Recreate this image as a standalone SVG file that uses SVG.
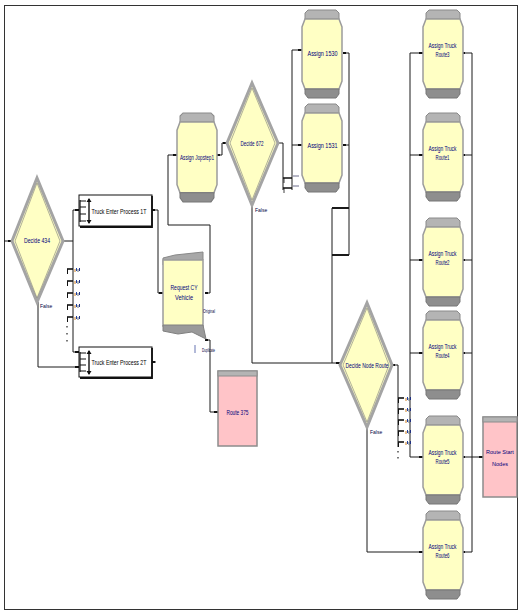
<svg xmlns="http://www.w3.org/2000/svg" xmlns:xlink="http://www.w3.org/1999/xlink" width="521" height="612" viewBox="0 0 521 612">
<style>
.lbl{font-family:"Liberation Sans",Arial,sans-serif;font-size:8px;fill:#00007a;text-anchor:middle}
.sm{font-family:"Liberation Sans",Arial,sans-serif;font-size:5px;fill:#000040}
.w{fill:none;stroke:#1a1a1a;stroke-width:1}
.wt{fill:none;stroke:#1a1a1a;stroke-width:2}
.tick{stroke:#111;stroke-width:2.2}
.dia{fill:#ffffc4;stroke:#a4a4a4;stroke-width:3}
.diain{fill:none;stroke:#7c7c7c;stroke-width:0.6}
.body{fill:#ffffc4;stroke:#9c9c9c;stroke-width:1.5}
.route{fill:#ffc4c8;stroke:#8c8c8c;stroke-width:1.5}
</style>
<defs>
<g id="asg">
<path d="M6,0 H34 L37,3 V9 H3 V3 Z" fill="#b4b4b4" stroke="#8a8a8a" stroke-width="1"/>
<path d="M3,9 H37 L40,17 V71 L37,79 H3 L0,71 V17 Z" class="body"/>
<path d="M3,79 H37 V84 L34,88 H6 L3,84 Z" fill="#8e8e8e" stroke="#777" stroke-width="1"/>
</g>
<g id="tag">
<path d="M0,0 H6" stroke="#111" stroke-width="1.6"/>
<path d="M0.5,0 V5" stroke="#111" stroke-width="1"/>
<path d="M8,0 v3" stroke="#d08020" stroke-width="1"/>
<path d="M9.5,-1 v3" stroke="#2040a0" stroke-width="1"/>
<path d="M11,0 v3" stroke="#607080" stroke-width="1"/>
<path d="M12.5,-1 v3" stroke="#203080" stroke-width="1"/>
</g>
</defs>

<rect x="4.5" y="5.5" width="513" height="604" fill="#fff" stroke="#333" stroke-width="1"/>

<g id="connectors">
<path class="w" d="M4,241 H12"/>
<path class="w" d="M63,241 H73 M73,210 V352 M73,210 H79 M73,352 H79"/>
<path class="w" d="M38,302 V367 H79"/>
<path class="w" d="M152,210 H158 V293 H163"/>
<path class="w" d="M152,362 H156"/>
<path class="w" d="M205,293 H210 V225 H168 V155 H177"/>
<path class="w" d="M205,340 H210 V412 H218"/>
<path class="w" d="M217,155 H222 V143 H227"/>
<path class="w" d="M278,143 H283 V190"/>
<path class="w" d="M292,50 V190 M292,50 H302 M292,145 H302"/>
<path class="w" d="M252,205 V363 H340"/>
<path class="w" d="M343,53 H349 V255 M343,145 H349"/>
<path class="wt" d="M332,208 H349 M332,255 H349"/>
<path class="w" d="M332,208 V363"/>
<path class="w" d="M392,365 H398 V447"/>
<path class="w" d="M410,53 V457 M410,53 H423 M410,155 H423 M410,260 H423 M410,353 H423 M410,457 H423"/>
<path class="w" d="M367,427 V552 H423"/>
<path class="w" d="M462,53 H472 V552 M462,155 H472 M462,260 H472 M462,353 H472 M462,457 H472 M462,552 H472 M472,457 H483"/>
<g class="tick">
<path d="M8,241 H12 M75,210 H79 M75,352 H79 M75,367 H79 M159,293 H163 M152,210 H155 M152,362 H155 M173,155 H177 M214,412 H218 M223,143 H227 M217,155 H220 M205,293 H208 M205,340 H208 M298,50 H302 M298,145 H302 M343,53 H346 M343,145 H346 M336,363 H340 M392,365 H395"/>
<path d="M419,53 H423 M419,155 H423 M419,260 H423 M419,353 H423 M419,457 H423 M419,552 H423 M462,53 H465 M462,155 H465 M462,260 H465 M462,353 H465 M462,457 H465 M462,552 H465 M479,457 H483"/>
</g>
<g id="tags434">
<use xlink:href="#tag" x="67" y="269"/>
<use xlink:href="#tag" x="67" y="281"/>
<use xlink:href="#tag" x="67" y="293"/>
<use xlink:href="#tag" x="67" y="305"/>
<use xlink:href="#tag" x="67" y="317"/>
<path d="M67,326 v1.5 M67,333 v1.5 M67,340 v1.5" stroke="#222" stroke-width="1.2"/>
</g>
<g id="tags672">
<path d="M283,178 H292 M283,188 H292" stroke="#111" stroke-width="1.6"/>
<path d="M284,178 v5 M284,188 v5" stroke="#111" stroke-width="0.8"/>
<path d="M293,176 h6 M293,186 h6" stroke="#6a6a8a" stroke-width="1"/>
</g>
<g id="tagsNode">
<use xlink:href="#tag" x="398" y="398"/>
<use xlink:href="#tag" x="398" y="409"/>
<use xlink:href="#tag" x="398" y="420"/>
<use xlink:href="#tag" x="398" y="431"/>
<use xlink:href="#tag" x="398" y="442"/>
<path d="M398,451 v1.5 M398,457 v1.5" stroke="#222" stroke-width="1.2"/>
</g>
</g>

<g id="decide434">
<polygon class="dia" points="12,241 37,178 63,241 37,302"/>
<polygon class="diain" points="15,241 37,183 60,241 37,298"/>
<text class="lbl" x="37" y="243" textLength="26" lengthAdjust="spacingAndGlyphs">Decide 434</text>
<text class="sm" x="40" y="308">False</text>
</g>

<g id="truck1T">
<rect x="79" y="195" width="73" height="31" fill="#fff" stroke="#111" stroke-width="1"/>
<path d="M152,196 V227 H80" fill="none" stroke="#111" stroke-width="1.8"/>
<path d="M80,200 V222 M80,201 H86 M80,207 H86 M80,214 H86 M80,221 H86" stroke="#111" stroke-width="1.2" fill="none"/>
<path d="M89,199 V223" stroke="#111" stroke-width="1.4"/>
<path d="M86.5,202 L89,198 L91.5,202 Z M86.5,220 L89,224 L91.5,220 Z" fill="#111"/>
<text class="lbl" x="119" y="213.5" textLength="55" lengthAdjust="spacingAndGlyphs" style="fill:#000">Truck Enter Process 1T</text>
</g>

<g id="truck2T">
<rect x="79" y="347" width="73" height="30" fill="#fff" stroke="#111" stroke-width="1"/>
<path d="M152,348 V378 H80" fill="none" stroke="#111" stroke-width="1.8"/>
<path d="M80,352 V372 M80,353 H86 M80,359 H86 M80,365 H86 M80,371 H86" stroke="#111" stroke-width="1.2" fill="none"/>
<path d="M89,351 V374" stroke="#111" stroke-width="1.4"/>
<path d="M86.5,354 L89,350 L91.5,354 Z M86.5,371 L89,375 L91.5,371 Z" fill="#111"/>
<text class="lbl" x="119" y="365" textLength="55" lengthAdjust="spacingAndGlyphs" style="fill:#000">Truck Enter Process 2T</text>
</g>

<g id="requestCY">
<polygon points="163,258 175,255 203,252 203,260 163,265" fill="#a8a8a8" stroke="#888" stroke-width="1"/>
<rect x="163" y="260" width="40" height="66" class="body"/>
<polygon points="163,325 203,325 206,339 192,332 178,334 163,331" fill="#9a9a9a" stroke="#808080" stroke-width="1"/>
<text class="lbl" x="184" y="290" textLength="27" lengthAdjust="spacingAndGlyphs">Request CY</text>
<text class="lbl" x="184" y="300" textLength="18" lengthAdjust="spacingAndGlyphs">Vehicle</text>
<text class="sm" x="203" y="313" textLength="12" lengthAdjust="spacingAndGlyphs">Original</text>
<text class="sm" x="202" y="352" textLength="13" lengthAdjust="spacingAndGlyphs">Duplicate</text>
<path d="M195,345 V353" stroke="#4050a0" stroke-width="0.8"/>
</g>

<g id="route375">
<rect x="218" y="371" width="39" height="75" class="route"/>
<rect x="218" y="371" width="39" height="5" fill="#b4b4b4" stroke="#8c8c8c" stroke-width="1"/>
<text class="lbl" x="237.5" y="415" textLength="22" lengthAdjust="spacingAndGlyphs">Route 375</text>
</g>

<g id="assignJopstep1">
<use xlink:href="#asg" transform="translate(177,113) scale(1,1.01)"/>
<text class="lbl" x="197" y="160" textLength="34" lengthAdjust="spacingAndGlyphs">Assign Jopstep1</text>
</g>

<g id="decide672">
<polygon class="dia" points="227,143 252,83 278,143 252,205"/>
<polygon class="diain" points="230,143 252,88 275,143 252,200"/>
<text class="lbl" x="252" y="146" textLength="23" lengthAdjust="spacingAndGlyphs">Decide 672</text>
<text class="sm" x="255" y="212">False</text>
</g>

<g id="assign1530">
<use xlink:href="#asg" transform="translate(302,10)"/>
<text class="lbl" x="322.5" y="56" textLength="30" lengthAdjust="spacingAndGlyphs">Assign 1530</text>
</g>

<g id="assign1531">
<use xlink:href="#asg" transform="translate(302,104)"/>
<text class="lbl" x="322.5" y="148" textLength="30" lengthAdjust="spacingAndGlyphs">Assign 1531</text>
</g>

<g id="decideNodeRoute">
<polygon class="dia" points="340,365 367,303 392,365 367,427"/>
<polygon class="diain" points="343,365 367,308 389,365 367,422"/>
<text class="lbl" x="367" y="368" textLength="43" lengthAdjust="spacingAndGlyphs">Decide Node Route</text>
<text class="sm" x="370" y="434">False</text>
</g>

<g id="route3">
<use xlink:href="#asg" transform="translate(423,10)"/>
<text class="lbl" x="442.5" y="48" textLength="28" lengthAdjust="spacingAndGlyphs">Assign Truck</text>
<text class="lbl" x="442.5" y="57" textLength="14" lengthAdjust="spacingAndGlyphs">Route3</text>
</g>
<g id="route1">
<use xlink:href="#asg" transform="translate(423,113)"/>
<text class="lbl" x="442.5" y="151" textLength="28" lengthAdjust="spacingAndGlyphs">Assign Truck</text>
<text class="lbl" x="442.5" y="160" textLength="14" lengthAdjust="spacingAndGlyphs">Route1</text>
</g>
<g id="route2">
<use xlink:href="#asg" transform="translate(423,218)"/>
<text class="lbl" x="442.5" y="256" textLength="28" lengthAdjust="spacingAndGlyphs">Assign Truck</text>
<text class="lbl" x="442.5" y="265" textLength="14" lengthAdjust="spacingAndGlyphs">Route2</text>
</g>
<g id="route4">
<use xlink:href="#asg" transform="translate(423,311)"/>
<text class="lbl" x="442.5" y="349" textLength="28" lengthAdjust="spacingAndGlyphs">Assign Truck</text>
<text class="lbl" x="442.5" y="358" textLength="14" lengthAdjust="spacingAndGlyphs">Route4</text>
</g>
<g id="route5">
<use xlink:href="#asg" transform="translate(423,416)"/>
<text class="lbl" x="442.5" y="455" textLength="28" lengthAdjust="spacingAndGlyphs">Assign Truck</text>
<text class="lbl" x="442.5" y="464" textLength="14" lengthAdjust="spacingAndGlyphs">Route5</text>
</g>
<g id="route6">
<use xlink:href="#asg" transform="translate(423,511)"/>
<text class="lbl" x="442.5" y="549" textLength="28" lengthAdjust="spacingAndGlyphs">Assign Truck</text>
<text class="lbl" x="442.5" y="558" textLength="14" lengthAdjust="spacingAndGlyphs">Route6</text>
</g>

<g id="routeStartNodes">
<rect x="483" y="417" width="34" height="80" class="route"/>
<rect x="483" y="417" width="34" height="5" fill="#b4b4b4" stroke="#8c8c8c" stroke-width="1"/>
<text class="lbl" x="500" y="454" style="font-size:5.5px">Route Start</text>
<text class="lbl" x="500" y="466" style="font-size:5.5px">Nodes</text>
</g>
</svg>
